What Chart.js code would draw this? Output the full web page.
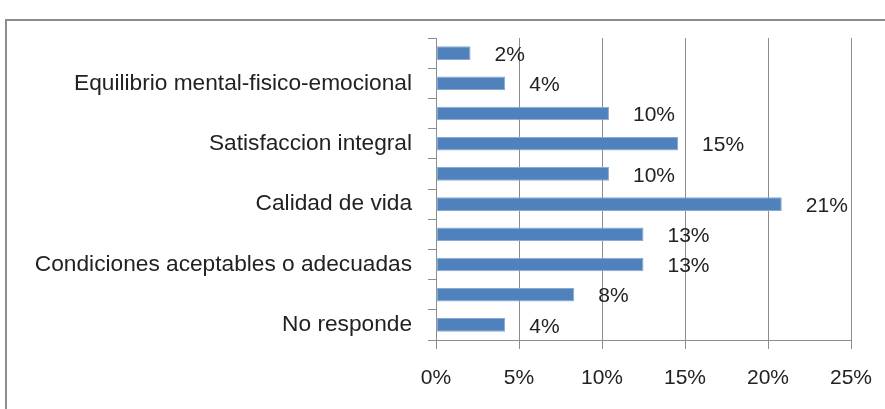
<!DOCTYPE html>
<html>
<head>
<meta charset="utf-8">
<script src="https://cdn.jsdelivr.net/npm/chart.js@4"></script>
<style>
  html, body { margin: 0; padding: 0; background: #fff; }
  #wrap { position: relative; width: 885px; height: 409px; overflow: hidden; }
  #frame { position: absolute; left: 5px; top: 19px; width: 900px; height: 420px;
           border-left: 2px solid #8c8c8c; border-top: 2px solid #8c8c8c; }
  canvas { position: absolute; left: 0; top: 0; }
</style>
</head>
<body>
<div id="wrap">
  <div id="frame"></div>
  <canvas id="chart" width="885" height="409"></canvas>
</div>
<script>
// categorias de arriba hacia abajo (solo algunas etiquetas visibles)
const categories = ['', 'Equilibrio mental-fisico-emocional', '', 'Satisfaccion integral', '',
  'Calidad de vida', '', 'Condiciones aceptables o adecuadas', '', 'No responde'];
const values = [2.08, 4.17, 10.42, 14.58, 10.42, 20.83, 12.5, 12.5, 8.33, 4.17];
const xTicks = [0, 5, 10, 15, 20, 25];

const FONT = 'Liberation Sans';

// etiquetas de datos a la derecha de cada barra
const barLabels = {
  id: 'barLabels',
  afterDatasetsDraw(chart) {
    const ctx = chart.ctx;
    const meta = chart.getDatasetMeta(0);
    ctx.save();
    ctx.font = '21px "' + FONT + '"';
    ctx.fillStyle = '#222';
    ctx.textBaseline = 'middle';
    ctx.textAlign = 'left';
    meta.data.forEach((bar, i) => {
      ctx.fillText(Math.round(values[i]) + '%', bar.x + 24, bar.y + 2);
    });
    ctx.restore();
  }
};

const ctx = document.getElementById('chart').getContext('2d');
const chart = new Chart(ctx, {
  type: 'bar',
  data: {
    labels: categories,
    datasets: [{
      data: values,
      backgroundColor: '#4F81BD',
      borderColor: '#8BAAD3',
      borderWidth: 1,
      borderSkipped: false,
      categoryPercentage: 1,
      barPercentage: 0.45
    }]
  },
  options: {
    indexAxis: 'y',
    responsive: false,
    animation: false,
    layout: { padding: { top: 38, right: 34, left: 0, bottom: 0 } },
    plugins: {
      legend: { display: false },
      tooltip: { enabled: false }
    },
    scales: {
      x: {
        min: 0,
        max: 25,
        afterBuildTicks: function(scale) {
          scale.ticks = xTicks.map(v => ({ value: v }));
        },
        afterFit: function(scale) {
          scale.height = 69;
          scale.paddingLeft = 0;
          scale.paddingRight = 0;
        },
        grid: {
          color: '#8c8c8c',
          lineWidth: 1,
          tickLength: 9,
          drawOnChartArea: true
        },
        border: { color: '#8c8c8c' },
        ticks: {
          color: '#222',
          font: { family: FONT, size: 21 },
          padding: 17,
          callback: function(value) { return value + '%'; }
        }
      },
      y: {
        afterFit: function(scale) { scale.width = 436; },
        grid: {
          offset: true,
          color: '#8c8c8c',
          tickLength: 8,
          drawOnChartArea: false
        },
        border: { color: '#8c8c8c' },
        ticks: {
          autoSkip: false,
          color: '#222',
          font: { family: FONT, size: 22.7 },
          padding: 16
        }
      }
    }
  },
  plugins: [barLabels]
});
</script>
</body>
</html>
